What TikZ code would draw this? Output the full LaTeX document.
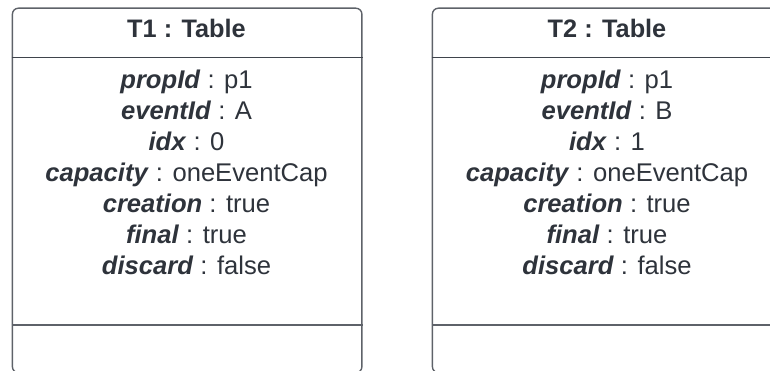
\documentclass[tikz,border=0pt]{standalone}
\usepackage{fontspec}
\setmainfont{Liberation Sans}
\definecolor{boxline}{HTML}{5E6269}
\definecolor{divline}{HTML}{3F444C}
\definecolor{txt}{HTML}{2E333B}
\begin{document}
\begin{tikzpicture}[x=1pt,y=-1pt,
  objbox/.style={draw=boxline, line width=1.4pt, rounded corners=6pt, fill=white, inner sep=0pt},
  divider/.style={draw=divline, line width=1.4pt},
  divider2/.style={draw=boxline, line width=1.4pt},
  title/.style={text=txt, font=\fontsize{25.3}{30}\selectfont\bfseries, inner sep=0pt, anchor=base},
  attr/.style={text=txt, font=\fontsize{25.6}{30}\selectfont, inner sep=0pt, anchor=base}]
\useasboundingbox (0,0) rectangle (770,371);
\clip (0,0) rectangle (770,371);
% boxes
\node[objbox, anchor=north west, minimum width=349.5pt, minimum height=364.5pt] (b1) at (11.7,7.5) {};
\node[objbox, anchor=north west, minimum width=349.5pt, minimum height=364.5pt] (b2) at (431.7,7.5) {};
% dividers
\coordinate (h1) at (0,57.3);
\coordinate (l1) at (0,325);
\draw[divider] (b1.west |- h1) -- (b1.east |- h1);
\draw[divider2] (b1.west |- l1) -- (b1.east |- l1);
\draw[divider] (b2.west |- h1) -- (b2.east |- h1);
\draw[divider2] (b2.west |- l1) -- (b2.east |- l1);
% titles
\node[title] (t1) at (186.5,37.2) {T1 : Table};
\node[title] (t2) at (607,37.2) {T2 : Table};
% attributes
\foreach \n/\cx/\ev/\ix in {a/186.5/A/0, b/607/B/1}{
  \node[attr] (\n1) at (\cx,88.6) {\textbf{\textit{propId}} : p1};
  \node[attr] (\n2) at (\cx,119.5) {\textbf{\textit{eventId}} : \ev};
  \node[attr] (\n3) at (\cx,150.4) {\textbf{\textit{idx}} : \ix};
  \node[attr] (\n4) at (\cx,181.3) {\textbf{\textit{capacity}} : oneEventCap};
  \node[attr] (\n5) at (\cx,212.2) {\textbf{\textit{creation}} : true};
  \node[attr] (\n6) at (\cx,243.1) {\textbf{\textit{final}} : true};
  \node[attr] (\n7) at (\cx,274) {\textbf{\textit{discard}} : false};
}
\end{tikzpicture}
\end{document}
